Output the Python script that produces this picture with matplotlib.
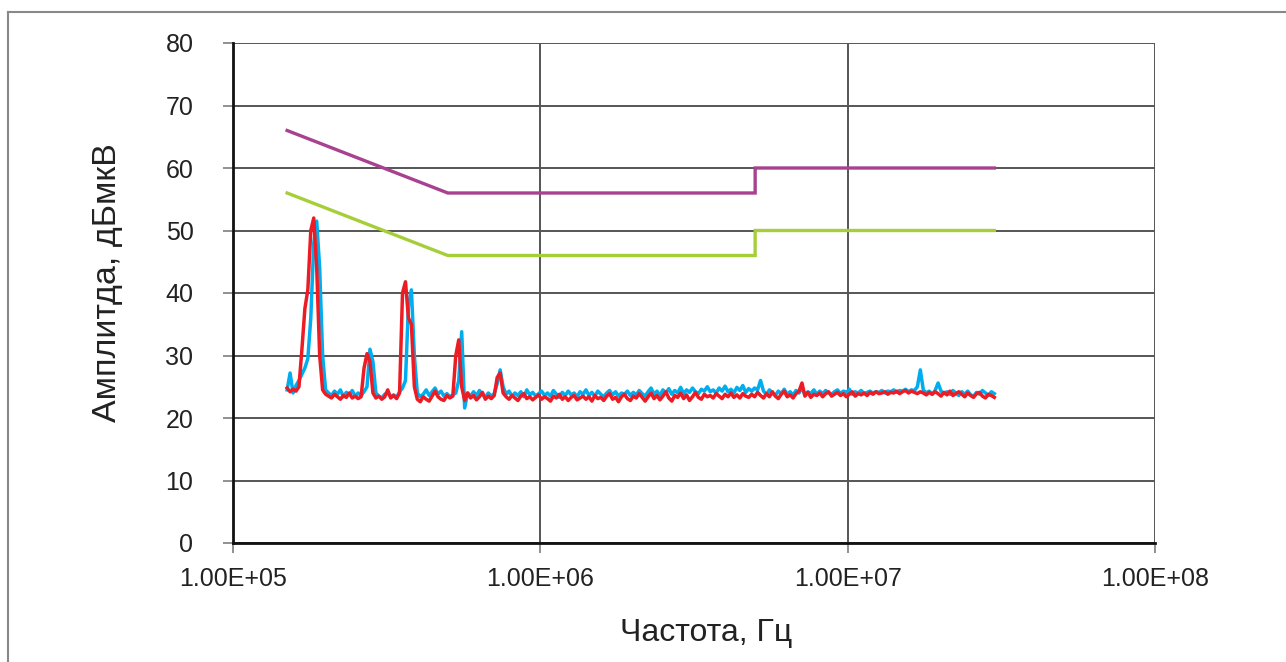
import numpy as np
import matplotlib
matplotlib.use('Agg')
import matplotlib.pyplot as plt
from matplotlib.lines import Line2D

plt.rcParams['font.family'] = ['Liberation Sans', 'DejaVu Sans']

# limit lines (quasi-peak / average)
limit_freq = [1.5e5, 5e5, 5e6, 5e6, 3e7]
limit_qp = [66, 56, 56, 60, 60]
limit_av = [56, 46, 46, 50, 50]

# measured spectra, 240 points swept from 150 kHz to 30 MHz
f_start, f_stop = 1.5e5, 3e7

red_amp = [
    24.8, 24.2, 24.6, 24.3, 25.0, 31.0, 37.5, 40.5, 50.0, 52.0, 44.0, 30.0, 24.5, 23.8,
    23.5, 23.2, 23.8, 23.4, 23.0, 23.6, 23.3, 24.0, 23.2, 23.5, 23.1, 23.4,
    28.0, 30.3, 29.0, 24.0,
    23.2, 23.5, 23.0, 23.4, 24.5, 23.2, 23.6, 23.1, 24.0,
    40.0, 41.8, 36.0, 35.0, 25.0,
    23.0, 22.6, 23.4, 23.0, 22.7, 23.5, 24.3, 23.4, 23.0, 22.8, 23.6, 23.2, 23.5,
    30.0, 32.5, 25.0,
    22.8, 24.0, 23.2, 23.6, 22.9, 23.4, 24.1, 23.0, 23.5, 23.1, 23.6,
    26.5, 27.2, 24.0,
    23.4, 23.0, 23.6, 23.2, 22.8, 23.5, 23.9, 23.1, 23.4, 22.9, 23.3, 23.7, 23.0, 23.4,
    23.1, 22.7, 23.5, 23.2, 23.8, 23.0, 23.4, 22.8, 23.3, 23.6, 22.9, 23.2, 23.5, 23.0,
    23.4, 22.7, 23.6, 23.1, 23.3, 22.8, 23.5, 23.9, 23.0, 23.3, 22.6, 23.4, 23.8, 23.1,
    22.8, 23.5, 23.2, 23.9, 23.3, 22.7, 23.4, 24.0, 23.1, 23.6, 22.9, 23.5, 24.2, 23.2,
    22.7, 23.6, 23.3, 24.0, 23.1, 23.7, 22.8, 23.4, 24.1, 23.3, 23.0, 23.8, 23.4, 23.6,
    23.2, 23.9, 23.5, 23.1, 23.8, 23.4, 24.0, 23.3, 23.7, 23.2, 23.9, 23.5, 23.3, 23.8,
    23.4, 24.1, 23.6, 23.2, 23.9, 23.4, 24.2, 23.5, 23.1, 23.8, 24.3, 23.4, 23.7, 23.2,
    23.9, 24.3, 25.6, 23.5, 24.1, 23.3, 23.8, 23.6, 24.0, 23.4, 23.9, 24.2, 23.5, 23.8,
    24.1, 23.6, 23.9, 23.4, 23.8, 24.2, 23.5, 23.9, 23.7, 24.0, 23.6, 24.1, 23.8, 24.2,
    23.9, 24.0, 24.2, 23.8, 24.1, 24.0, 24.3, 23.9, 24.2, 24.4, 24.0, 24.3, 24.1, 23.9,
    24.2, 24.0, 23.7, 24.1, 23.8, 24.2, 23.9, 23.5, 24.1, 23.7, 24.3, 23.6, 23.9, 24.2,
    23.8, 23.4, 24.0, 23.6, 23.3, 23.9, 24.1, 23.5, 23.2, 23.8, 23.6, 23.3,
]

blue_amp = [
    24.5, 27.2, 24.0, 25.2, 26.0, 27.0, 28.0, 29.5, 36.0, 48.0, 51.5, 44.0, 30.0, 24.5,
    24.0, 23.6, 24.3, 23.8, 24.5, 23.4, 24.1, 23.7, 24.4, 23.5, 24.0, 23.6, 24.2,
    25.0, 31.0, 29.0, 24.0,
    23.5, 23.2, 23.8, 24.0, 23.4, 23.7, 23.3, 24.2, 24.8,
    26.0, 38.0, 40.5, 30.0, 24.0,
    23.4, 23.8, 24.5, 23.6, 24.2, 24.8, 23.8, 24.3, 23.5, 23.9, 23.4, 23.7, 24.0,
    26.0, 33.8, 21.6, 24.0,
    23.5, 24.2, 23.6, 24.4, 23.8, 23.3, 24.0, 23.5, 23.9,
    25.5, 27.7, 25.0,
    23.8, 24.3, 23.5, 24.0, 23.6, 24.2, 23.4, 24.5, 23.7, 24.1, 23.5, 23.9, 24.3, 23.6,
    24.0, 23.5, 24.4, 23.8, 23.3, 24.1, 23.6, 24.3, 23.7, 24.0, 23.4, 24.2, 23.8, 24.5,
    23.6, 24.1, 23.5, 24.3, 23.8, 23.4, 24.0, 24.4, 23.7, 24.2, 23.5, 24.0, 23.8, 24.3,
    23.6, 24.1, 23.7, 24.4, 23.9, 23.5, 24.2, 24.8, 23.8, 24.3, 23.6, 24.5, 24.0, 24.7,
    23.8, 24.4, 24.0, 24.9, 23.9, 24.5, 24.1, 24.8, 24.2, 23.9, 24.6, 24.3, 25.0, 24.2,
    24.5, 24.0, 24.8, 24.3, 25.1, 24.2, 24.6, 24.0, 24.9, 24.4, 25.2, 24.1, 24.7, 24.3,
    24.8, 24.5, 26.0, 24.3, 23.8, 24.5, 24.0, 23.6, 24.3, 23.9, 24.6, 23.8, 24.2, 23.7,
    24.4, 24.0, 24.8, 23.7, 24.2, 23.9, 24.5, 23.8, 24.3, 23.9, 24.4, 24.0, 23.8, 24.2,
    24.5, 23.9, 24.3, 24.1, 24.6, 23.8, 24.2, 24.0, 24.4, 23.9, 24.1, 24.3, 24.0, 24.2,
    24.1, 24.4, 24.0, 24.3, 24.2, 24.5, 24.1, 24.4, 24.3, 24.6, 24.2, 24.5, 24.4, 25.0,
    27.7, 24.5, 24.0, 24.3, 23.8, 24.4, 25.6, 24.3, 23.9, 24.2, 23.8, 24.4, 24.0, 23.6,
    24.2, 23.8, 24.3, 23.7, 23.5, 24.1, 23.8, 24.4, 24.0, 23.6, 24.2, 23.9,
]

freq_red = np.geomspace(f_start, f_stop, len(red_amp))
freq_blue = np.geomspace(f_start, f_stop, len(blue_amp))

fig = plt.figure(figsize=(12.86, 6.62), dpi=100)
ax = fig.add_axes([233/1286, 1 - 543/662, (1155-233)/1286, (543-43)/662])

ax.plot(limit_freq, limit_qp, color='#A8418F', lw=2.4, solid_joinstyle='miter')
ax.plot(limit_freq, limit_av, color='#A6CE39', lw=2.4, solid_joinstyle='miter')
ax.plot(freq_blue, blue_amp, color='#00AEEF', lw=2.5)
ax.plot(freq_red, red_amp, color='#ED1C24', lw=2.5)

ax.set_xscale('log')
ax.set_xlim(1e5, 1e8)
ax.set_ylim(0, 80)
ax.set_yticks(range(0, 81, 10))
ax.set_xticks([1e5, 1e6, 1e7, 1e8])
ax.set_xticklabels(['1.00E+05', '1.00E+06', '1.00E+07', '1.00E+08'])
ax.xaxis.set_minor_locator(matplotlib.ticker.NullLocator())
ax.grid(True, color='#555555', lw=1.4)
ax.set_axisbelow(True)

for s in ['top', 'right']:
    ax.spines[s].set_visible(False)
for s in ['left', 'bottom']:
    ax.spines[s].set_color('#111111')
    ax.spines[s].set_linewidth(2.0)

ax.tick_params(axis='y', labelsize=18, colors='#888888', labelcolor='#222222',
               length=7.5, width=1.3, pad=21)
ax.tick_params(axis='x', labelsize=18, colors='#888888', labelcolor='#222222',
               length=7, width=1.3, pad=10)

ax.set_xlabel('Частота, Гц', fontsize=23, color='#222222')
ax.set_ylabel('Амплитда, дБмкВ', fontsize=24.5, color='#222222')
ax.xaxis.set_label_coords((706 - 233) / 922, -(633 - 543) / 500)
ax.yaxis.set_label_coords(-(233 - 108) / 922, (543 - 283) / 500)
ax.xaxis.label.set_va('center')
ax.yaxis.label.set_va('center')

# outer frame (cut at the right and bottom edges)
fig.add_artist(Line2D([8/1286, 1], [1 - 11.5/662, 1 - 11.5/662],
                      transform=fig.transFigure, color='#888888', lw=1.5))
fig.add_artist(Line2D([8/1286, 8/1286], [0, 1 - 11.5/662],
                      transform=fig.transFigure, color='#888888', lw=1.5))

fig.savefig('out.png', dpi=100)
